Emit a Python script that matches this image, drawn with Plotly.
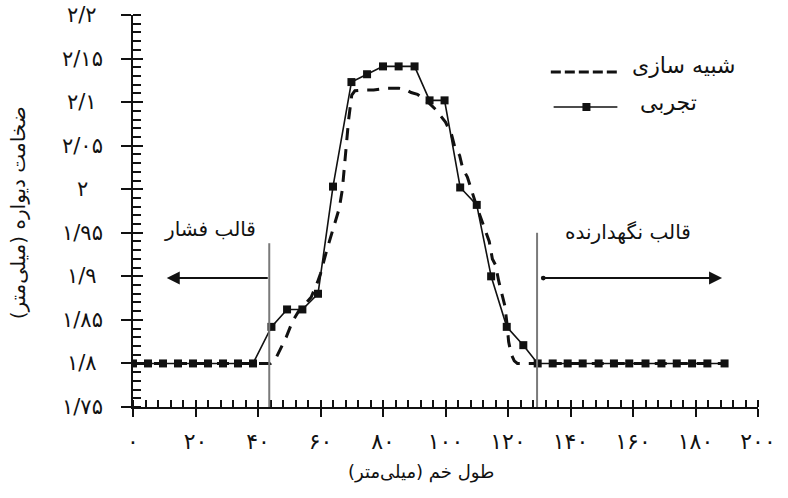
import plotly.graph_objects as go

# ---- data -------------------------------------------------------------
# experimental wall thickness along the bend (mm)
exp_x = [0, 4.8, 9.6, 14.4, 19.2, 24, 28.8, 33.6, 38.4,
         44.3, 49.3, 54.2, 59.2, 64, 69.9, 74.9, 80, 85, 90.1, 94.9, 99.7,
         104.7, 110, 114.6, 119.6, 124.9,
         129.5, 134.3, 139.1, 143.9, 149.0, 153.9, 158.8, 164.0, 169.1,
         174.0, 178.9, 183.8, 189.3]
exp_y = [1.80, 1.80, 1.80, 1.80, 1.80, 1.80, 1.80, 1.80, 1.80,
         1.842, 1.862, 1.862, 1.880, 2.003, 2.123, 2.132, 2.141, 2.141, 2.141, 2.102, 2.102,
         2.002, 1.982, 1.900, 1.842, 1.821,
         1.80, 1.80, 1.80, 1.80, 1.80, 1.80, 1.80, 1.80, 1.80,
         1.80, 1.80, 1.80, 1.80]

# simulated wall thickness (mm)
sim_x = [0, 10, 20, 30, 40, 44, 46, 48, 49, 51, 53, 55, 57, 59, 60, 62, 64, 66, 67,
         68, 69, 70, 71, 74, 77, 81, 85, 87, 89, 91, 93, 95, 97, 99, 100, 102, 103,
         104.5, 105.5, 107, 108, 110, 112, 114, 115, 116, 117, 118, 119, 119.6,
         120.2, 121, 122, 123, 130, 150, 170, 190]
sim_y = [1.80, 1.80, 1.80, 1.80, 1.80, 1.80, 1.808, 1.822, 1.830, 1.848, 1.860, 1.868,
         1.876, 1.893, 1.903, 1.930, 1.955, 1.978, 2.000,
         2.045, 2.080, 2.108, 2.113, 2.114, 2.114, 2.116, 2.116, 2.115, 2.111, 2.109,
         2.104, 2.098, 2.091, 2.082, 2.077, 2.062, 2.048,
         2.039, 2.024, 2.014, 2.002, 1.980, 1.960, 1.940, 1.920, 1.913, 1.895, 1.882,
         1.866, 1.848, 1.825, 1.811, 1.803, 1.800, 1.80, 1.80, 1.80, 1.80]

# die boundaries along the bend (mm) and arrow reach
press_die_edge = 43.6
clamp_die_edge = 129.3
press_arrow_end = 10.8
clamp_arrow_end = 188.5
arrow_level = 1.898
edge_top = [1.938, 1.950]

x_ticks = [0, 20, 40, 60, 80, 100, 120, 140, 160, 180, 200]
x_ticktext = ["۰", "۲۰", "۴۰", "۶۰", "۸۰", "۱۰۰", "۱۲۰", "۱۴۰", "۱۶۰", "۱۸۰", "۲۰۰"]
y_ticks = [1.75, 1.8, 1.85, 1.9, 1.95, 2.0, 2.05, 2.1, 2.15, 2.2]
y_ticktext = ["۱/۷۵", "۱/۸", "۱/۸۵", "۱/۹", "۱/۹۵", "۲", "۲/۰۵", "۲/۱", "۲/۱۵", "۲/۲"]

series_names = ["شبیه سازی", "تجربی"]
die_labels = ["قالب فشار", "قالب نگهدارنده"]
x_title = "طول خم (میلی‌متر)"
y_title = "ضخامت دیواره (میلی‌متر)"

FONT = "DejaVu Sans"
INK = "#111111"

fig = go.Figure()

fig.add_trace(go.Scatter(
    x=sim_x, y=sim_y, mode="lines", name=series_names[0],
    line=dict(color=INK, width=3, dash="12px,9px"), showlegend=False))
fig.add_trace(go.Scatter(
    x=exp_x, y=exp_y, mode="lines+markers", name=series_names[1],
    line=dict(color=INK, width=1.6),
    marker=dict(symbol="square", size=8, color=INK), showlegend=False))
# empty trace so the overlay axes (inner half of major ticks) are drawn
fig.add_trace(go.Scatter(x=[None], y=[None], xaxis="x2", yaxis="y2",
                         showlegend=False, hoverinfo="skip"))

shapes = []
# die edge markers
for xe, yt in zip([press_die_edge, clamp_die_edge], edge_top):
    shapes.append(dict(type="line", xref="x", yref="y", x0=xe, x1=xe, y0=1.747, y1=yt,
                       line=dict(color="#7a7a7a", width=2)))

# legend samples
shapes.append(dict(type="line", xref="x", yref="y", x0=133.7, x1=155.3, y0=2.1346, y1=2.1346,
                   line=dict(color=INK, width=3, dash="10px,4px")))
shapes.append(dict(type="line", xref="x", yref="y", x0=134.6, x1=155.0, y0=2.0944, y1=2.0944,
                   line=dict(color=INK, width=1.5)))
shapes.append(dict(type="rect", xref="x", yref="y", xsizemode="pixel", ysizemode="pixel",
                   xanchor=145.1, yanchor=2.0944, x0=-4, x1=4, y0=-4, y1=4,
                   fillcolor=INK, line=dict(width=0)))

annotations = []
# y tick labels, centred in the left margin
for v, t in zip(y_ticks, y_ticktext):
    annotations.append(dict(xref="paper", yref="y", x=0, y=v, xshift=-51, text=t,
                            showarrow=False, xanchor="center", yanchor="middle",
                            font=dict(family=FONT, size=21, color=INK)))

# arrows showing each die's extent
annotations.append(dict(xref="x", yref="y", axref="x", ayref="y",
                        x=press_arrow_end, y=arrow_level, ax=press_die_edge, ay=arrow_level,
                        text="", showarrow=True, arrowhead=2, arrowsize=1.3, arrowwidth=2,
                        arrowcolor=INK))
annotations.append(dict(xref="x", yref="y", axref="x", ayref="y",
                        x=clamp_arrow_end, y=arrow_level, ax=clamp_die_edge + 1.5, ay=arrow_level,
                        text="", showarrow=True, arrowhead=2, arrowsize=1.3, arrowwidth=2,
                        arrowcolor=INK, startarrowhead=6, arrowside="end+start", startarrowsize=0.6))

label_font = dict(family=FONT, size=20, color=INK)
annotations.append(dict(xref="x", yref="y", x=24.6, y=1.954, text=die_labels[0],
                        xanchor="center", yanchor="middle", showarrow=False, font=label_font))
annotations.append(dict(xref="x", yref="y", x=158.5, y=1.951, text=die_labels[1],
                        xanchor="center", yanchor="middle", showarrow=False, font=label_font))

legend_font = dict(family=FONT, size=22, color=INK)
annotations.append(dict(xref="x", yref="y", x=159.0, y=2.142, text=series_names[0],
                        xanchor="left", yanchor="middle", showarrow=False, font=legend_font))
annotations.append(dict(xref="x", yref="y", x=161.5, y=2.099, text=series_names[1],
                        xanchor="left", yanchor="middle", showarrow=False, font=legend_font))

annotations.append(dict(xref="paper", yref="paper", x=(422 - 133) / 627, y=(407 - 472) / 392,
                        text=x_title, xanchor="center", yanchor="middle", showarrow=False,
                        font=dict(family=FONT, size=18, color=INK)))
annotations.append(dict(xref="paper", yref="paper", x=(18 - 133) / 627, y=0.495, text=y_title,
                        textangle=-90, xanchor="center", yanchor="middle", showarrow=False,
                        font=dict(family=FONT, size=20, color=INK)))

axis_common = dict(showgrid=False, zeroline=False)

fig.update_layout(
    width=788, height=498,
    margin=dict(l=133, r=28, t=15, b=91),
    paper_bgcolor="white", plot_bgcolor="white",
    font=dict(family=FONT, color=INK),
    shapes=shapes, annotations=annotations,
    xaxis=dict(range=[0, 200], tickmode="array", tickvals=x_ticks, ticktext=x_ticktext,
               ticks="outside", ticklen=8, tickwidth=2, tickcolor=INK,
               showline=True, linecolor=INK, linewidth=2,
               tickfont=dict(family=FONT, size=22, color=INK), ticklabelstandoff=6,
               minor=dict(ticks="inside", tick0=0, dtick=4, ticklen=7, tickwidth=1.5,
                          tickcolor=INK, showgrid=False),
               **axis_common),
    xaxis2=dict(overlaying="x", matches="x", anchor="y", range=[0, 200], tickmode="array",
                tickvals=x_ticks, ticks="inside", ticklen=7, tickwidth=2, tickcolor=INK,
                showticklabels=False, showline=False, **axis_common),
    yaxis=dict(range=[1.75, 2.2], tickmode="array", tickvals=y_ticks, showticklabels=False,
               ticks="outside", ticklen=10, tickwidth=2, tickcolor=INK,
               showline=True, linecolor=INK, linewidth=2,
               minor=dict(ticks="inside", tick0=1.75, dtick=0.01, ticklen=8, tickwidth=1.5,
                          tickcolor=INK, showgrid=False),
               **axis_common),
    yaxis2=dict(overlaying="y", matches="y", anchor="x", range=[1.75, 2.2], tickmode="array",
                tickvals=y_ticks, ticks="inside", ticklen=10, tickwidth=2, tickcolor=INK,
                showticklabels=False, showline=False, **axis_common),
)

fig.write_html("out.html")
